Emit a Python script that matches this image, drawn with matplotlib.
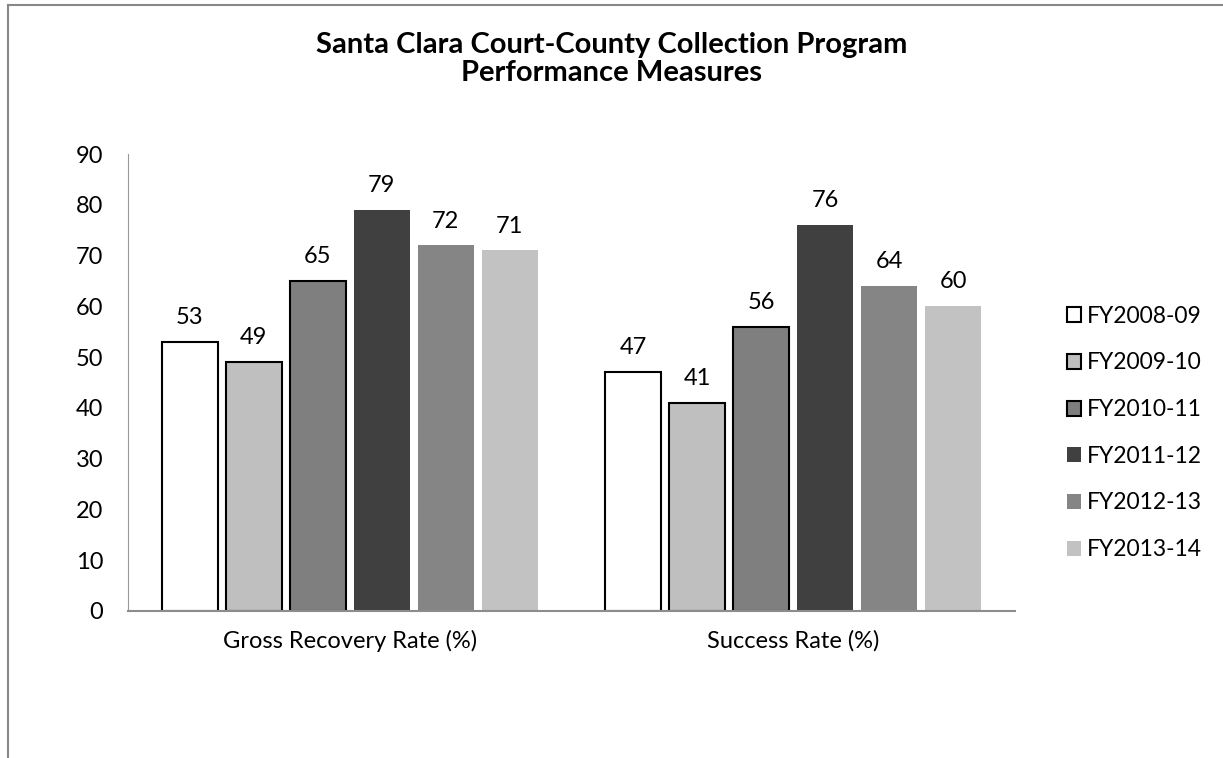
import matplotlib.pyplot as plt
import numpy as np

# data
categories = ['Gross Recovery Rate (%)', 'Success Rate (%)']
years = ['FY2008-09', 'FY2009-10', 'FY2010-11', 'FY2011-12', 'FY2012-13', 'FY2013-14']
gross_recovery = [53, 49, 65, 79, 72, 71]
success_rate = [47, 41, 56, 76, 64, 60]

colors = ['#ffffff', '#bfbfbf', '#7f7f7f', '#404040', '#858585', '#c2c2c2']
edges = ['black', 'black', 'black', 'none', 'none', 'none']

plt.rcParams['font.family'] = ['Lato', 'DejaVu Sans']
fs = 17

fig = plt.figure(figsize=(12.23, 7.58), dpi=100)
ax = fig.add_axes([0.1047, 0.194, 0.7253, 0.6028])

x = np.arange(len(categories))
step = 0.1443
width = 0.126
for i, yr in enumerate(years):
    vals = [gross_recovery[i], success_rate[i]]
    pos = x + (i - 2.5) * step
    ax.bar(pos, vals, width, color=colors[i], edgecolor=edges[i],
           linewidth=1.5, label=yr)
    for p, v in zip(pos, vals):
        ax.annotate(str(v), (p, v), xytext=(0, 10), textcoords='offset points',
                    ha='center', va='bottom', fontsize=fs)

ax.set_xlim(-0.5, 1.5)
ax.set_ylim(0, 90)
ax.set_yticks(range(0, 91, 10))
ax.set_xticks(x)
ax.set_xticklabels(categories, fontsize=fs)
ax.tick_params(axis='y', labelsize=fs, length=0, pad=18)
ax.tick_params(axis='x', length=0, pad=14)
for s in ['top', 'right']:
    ax.spines[s].set_visible(False)
ax.spines['left'].set_color('#999999')
ax.spines['bottom'].set_color('#8c8c8c')
ax.spines['bottom'].set_linewidth(1.5)

fig.text(0.5, 1 - 45 / 758, 'Santa Clara Court-County Collection Program',
         ha='center', va='center', fontsize=21, fontweight='bold')
fig.text(0.5, 1 - 73 / 758, 'Performance Measures',
         ha='center', va='center', fontsize=21, fontweight='bold')

ax.legend(loc='center left', bbox_to_anchor=(1067 / 1223, 1 - 433 / 758),
          bbox_transform=fig.transFigure, frameon=False, fontsize=16.5,
          borderpad=0, borderaxespad=0,
          handlelength=0.62, handleheight=0.62, handletextpad=0.25, labelspacing=1.12)

# figure border (top and left visible)
fig.add_artist(plt.Line2D([0.0065, 0.0065], [0, 0.9935], transform=fig.transFigure,
                          color='#888888', linewidth=1.5))
fig.add_artist(plt.Line2D([0.0065, 1], [0.9935, 0.9935], transform=fig.transFigure,
                          color='#888888', linewidth=1.5))

fig.savefig('out.png', dpi=100)
